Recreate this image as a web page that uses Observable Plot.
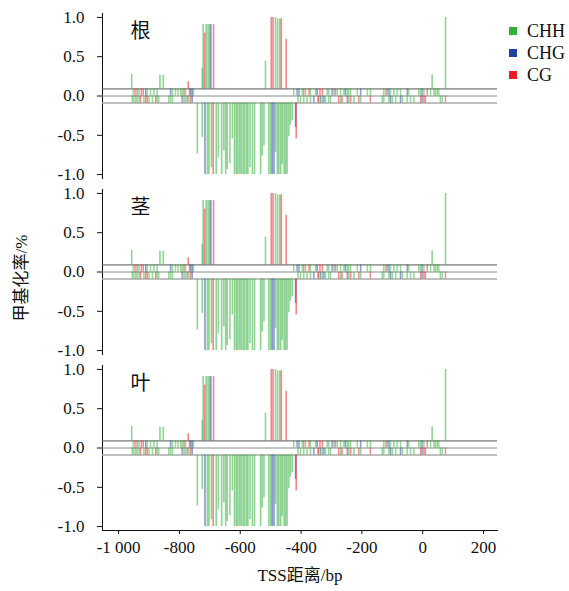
<!DOCTYPE html>
<html>
<head>
<meta charset="utf-8">
<script src="https://cdn.jsdelivr.net/npm/d3@7"></script>
<script src="https://cdn.jsdelivr.net/npm/@observablehq/plot@0.6"></script>
<style>
  html, body { margin: 0; padding: 0; background: #ffffff; }
  #wrap { position: relative; width: 569px; height: 591px; overflow: hidden; }
  #chart { position: absolute; left: 0; top: 0; }
  #chart svg { font-family: "Liberation Serif", "Times New Roman", "Noto Sans CJK SC", serif !important; font-size: 17px !important; }
  #chart svg g[aria-label="text"] text { font-family: "Noto Sans CJK SC", sans-serif; }
  #ylabel { position: absolute; left: 19px; top: 278px; transform: translate(-50%, -50%) rotate(-90deg);
    white-space: nowrap; font-size: 17px; font-family: "Liberation Serif", "Times New Roman", "Noto Sans CJK SC", serif; color: #111; }
  #legend { position: absolute; left: 509px; top: 20px; font-size: 18px; font-family: "Liberation Serif", "Times New Roman", serif; color: #111; }
  .li { display: flex; align-items: center; height: 22px; }
  .sw { width: 8px; height: 8px; margin-right: 10px; }
</style>
</head>
<body>
<div id="wrap">
  <div id="chart"></div>
  <div id="ylabel">甲基化率/%</div>
  <div id="legend"></div>
</div>
<script>
// ---- data ----
const panels = ["根", "茎", "叶"];
const typeCodes = {H: "CHH", G: "CHG", C: "CG"};
const typeLabels = ["CHH", "CHG", "CG"];
const typeColors = ["#2fb13a", "#23409e", "#ec1c24"];

const xTicks = [-1000, -800, -600, -400, -200, 0, 200];
const yTicks = [-1, -0.5, 0, 0.5, 1];

// upper strand sites (position from TSS, context, methylation level)
const topPos = [-957,-952,-946,-939,-933,-925,-919,-911,-906,-895,-884,-873,-864,-853,-829,-823,-813,-805,-796,-791,-785,-780,-771,-767,-763,-758,-754,
  -725,-722,-717,-712,-706,-701,-697,-688,
  -517,-498,-492,-484,-477,-470,-465,-449,
  -424,-413,-407,-396,-391,-385,-374,-369,-352,-347,-338,-330,-314,-309,-298,-292,-287,-281,-270,-259,-254,-248,-243,-237,-215,-204,-182,-172,
  -128,-122,-117,-111,-106,-95,-84,-73,-51,-46,-13,-7,-2,4,15,26,31,37,42,48,53,75];
const topType = "HHCCHCCGHHHHHHGHHHHHCHCCGGH" + "HHCHHHGC" + "HCCHHHCC" +
  "HGGHCHCHHGCCHHGHCHHHGHHHHGHH" + "HHCGHHHHGHHHGHCHHHHHHH";
const topVal = [0.2,0,0,0,0,0,0,0,0,0,0,0,0.19,0.19,0,0,0,0,0,0,0,0,0.1,0,0,0,0,
  0.29,0.9,0.78,0.9,0.9,0.9,0.9,0.9,
  0.39,1.0,1.0,1.0,0.98,0.98,0.98,0.69,
  0,0,0,0,0,0,0,0,0,0,0,0,0,0,0,0,0,0,0,0,0,0,0,0,0,0,0,0,
  0,0,0,0,0,0,0,0,0,0,0,0,0,0,0,0,0.2,0,0,0,0,1.0];

// lower strand sites
const botPos = [-955,-950,-944,-939,-933,-928,-917,-911,-906,-900,-889,-878,-873,-868,-835,-829,-823,-791,-785,-780,-774,-769,-763,-758,
  -741,-725,-716,-708,-703,-695,-689,-679,-672,-661,-654,-648,-643,-634,-626,-619,-613,-608,-602,-597,-591,-586,-580,-575,-568,-560,-553,
  -533,-528,-522,-506,-500,-495,-489,-484,-478,-473,-467,-462,-456,-451,-446,-440,-435,-429,-418,-416,
  -410,-402,-391,-380,-369,-358,-345,-342,-336,-330,-325,-320,-309,-303,-276,-270,-265,-248,-243,-237,-226,-210,-204,-172,
  -133,-128,-111,-106,-100,-89,-73,-67,-51,-40,-29,-7,-2,4,9,58,64,75];
const botType = "HHHHHCHCCHHCHHHHHGHHCHCG" + "HHGHHHCHHHHHHHHHHHHHHHHHHHHHHHHHGGHHHHHHHHHHHGC" +
  "HHHHHGHCGHGHHHCHCGHCHCHC" + "HHHGHHGHHHHCGCCHHC";
const botVal = [0,0,0,0,0,0,0,0,0,0,0,0,0,0,0,0,0,0,0,0,0,0,0,0,
  0.71,0.48,1.0,1.0,1.0,0.9,1.0,1.0,0.76,1.0,0.67,1.0,0.93,0.85,0.5,1.0,1.0,1.0,1.0,1.0,1.0,1.0,1.0,1.0,0.9,1.0,1.0,
  1.0,0.74,0.6,1.0,1.0,1.0,1.0,0.69,1.0,1.0,1.0,0.86,1.0,1.0,1.0,0.47,0.31,0.25,0.34,0.5,
  0,0,0,0,0,0,0,0,0,0,0,0,0,0,0,0,0,0,0,0,0,0,0,0,
  0,0,0,0,0,0,0,0,0,0,0,0,0,0,0,0,0,0];

// ---- layout constants (track lines) ----
const A = 0.09, C = -0.09, span = 1 - A;

const sites = [];
for (const panel of panels) {
  topPos.forEach((p, i) => sites.push({panel, pos: p, type: typeCodes[topType[i]], val: topVal[i], strand: "top"}));
  botPos.forEach((p, i) => sites.push({panel, pos: p, type: typeCodes[botType[i]], val: botVal[i], strand: "bot"}));
}
const rows = sites.filter(d => d.val === 0);
const bars = sites.filter(d => d.val > 0);

const fmtY = d => (d < 0 ? "-" : "") + Math.abs(d).toFixed(1);
const fmtX = d => d <= -1000 ? "-1 000" : String(d);

const chart = Plot.plot({
  width: 569,
  height: 591,
  marginLeft: 102,
  marginRight: 72,
  marginTop: 12,
  marginBottom: 59,
  style: {color: "#111", background: "transparent"},
  x: {domain: [-1053, 246], ticks: xTicks, tickFormat: fmtX, line: true, tickSize: 4, tickPadding: 6,
      label: "TSS距离/bp", labelAnchor: "center", labelArrow: "none", labelOffset: 50},
  y: {domain: [-1.05, 1.05], ticks: yTicks, tickFormat: fmtY, line: true, tickSize: 5, tickPadding: 13, label: null},
  fy: {domain: panels, axis: null, paddingInner: 0.062, paddingOuter: 0},
  color: {domain: typeLabels, range: typeColors},
  marks: [
    Plot.ruleY([A], {stroke: "#555", strokeWidth: 1}),
    Plot.ruleY([0], {stroke: "#888", strokeWidth: 1}),
    Plot.ruleY([C], {stroke: "#aaa", strokeWidth: 1.4}),
    Plot.ruleX(rows, {
      x: "pos", fy: "panel", stroke: "type", strokeWidth: 1.5, strokeOpacity: 0.5,
      y1: d => d.strand === "top" ? 0 : C,
      y2: d => d.strand === "top" ? A : 0
    }),
    Plot.ruleX(bars, {
      x: "pos", fy: "panel", stroke: "type", strokeWidth: 1.6, strokeOpacity: 0.55,
      y1: d => d.strand === "top" ? A : C,
      y2: d => d.strand === "top" ? A + d.val * span : C - d.val * span
    }),
    Plot.text(panels, {
      fy: d => d, text: d => d, frameAnchor: "top-left", dx: 38, dy: 18,
      textAnchor: "middle", lineAnchor: "middle",
      fontSize: 20, fill: "#111"
    })
  ]
});
document.getElementById("chart").appendChild(chart);

// legend
const legend = document.getElementById("legend");
typeLabels.forEach((t, i) => {
  const row = document.createElement("div");
  row.className = "li";
  const sw = document.createElement("span");
  sw.className = "sw";
  sw.style.background = typeColors[i];
  const tx = document.createElement("span");
  tx.textContent = t;
  row.appendChild(sw);
  row.appendChild(tx);
  legend.appendChild(row);
});
</script>
</body>
</html>
